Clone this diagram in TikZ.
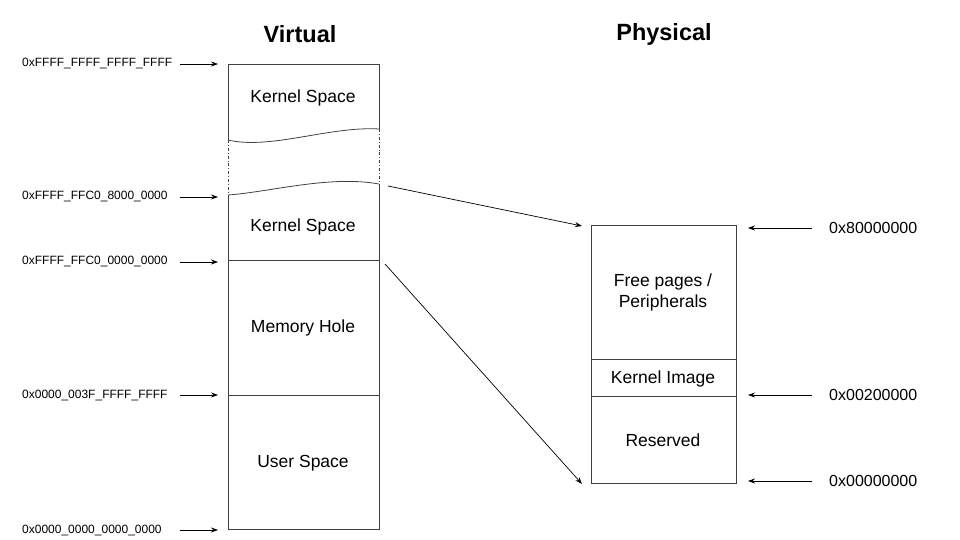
\documentclass[tikz,border=0pt]{standalone}
\usepackage{fontspec}
\setmainfont{Liberation Sans}
\usetikzlibrary{arrows.meta}
\begin{document}
\begin{tikzpicture}[x=1pt,y=-1pt,
  ln/.style={draw=black!75,line width=0.8pt},
  arr/.style={-{Stealth[length=7pt,width=5pt]},line width=0.7pt},
  addr/.style={anchor=west,font=\fontsize{12}{14}\selectfont,inner sep=0pt},
  lab/.style={font=\fontsize{17.5}{21}\selectfont,align=center},
  ttl/.style={font=\bfseries\fontsize{23.5}{26}\selectfont}]
\useasboundingbox (0,0) rectangle (960,540);
\node[ttl] (tv) at (300,34) {Virtual};
\node[ttl] (tp) at (664,34) {Physical};
% virtual column
\draw[ln] (228,140) -- (228,64) -- (379,64) -- (379,129);
\draw[ln] (228,140) .. controls (270,150) and (330,126) .. (379,129);
\draw[ln] (228,195) .. controls (270,192) and (330,175) .. (379,184);
\draw[ln] (379,184) -- (379,529) -- (228,529) -- (228,195);
\draw[ln] (228,260) -- (379,260);
\draw[ln] (228,395) -- (379,395);
\draw[ln,dash dot,line width=0.5pt] (228,140) -- (228,195);
\draw[ln,dash dot,line width=0.5pt] (379,129) -- (379,184);
\node[lab] (k1) at (303,98) {Kernel Space};
\node[lab] (k2) at (303,227) {Kernel Space};
\node[lab] (mh) at (303,328) {Memory Hole};
\node[lab] (us) at (303,463) {User Space};
% physical column
\draw[ln] (591,225) rectangle (736,483);
\draw[ln] (591,359) -- (736,359);
\draw[ln] (591,396) -- (736,396);
\node[lab] (fp) at (663,292) {Free pages /\\Peripherals};
\node[lab] (ki) at (663,379) {Kernel Image};
\node[lab] (rs) at (663,440) {Reserved};
% left addresses
\foreach \y/\t/\n in {64/0xFFFF\_FFFF\_FFFF\_FFFF/a1,197/0xFFFF\_FFC0\_8000\_0000/a2,262/0xFFFF\_FFC0\_0000\_0000/a3,395/0x0000\_003F\_FFFF\_FFFF/a4,530/0x0000\_0000\_0000\_0000/a5}{
  \node[addr] (\n) at (22,\y) {\t};
  \coordinate (\n e) at (218,\y);
  \draw[arr] (180,\y) -- (\n e);
}
% right addresses
\foreach \y/\t/\n in {228/0x80000000/b1,395/0x00200000/b2,481/0x00000000/b3}{
  \node[anchor=west,font=\fontsize{16}{18}\selectfont,inner sep=0pt] (\n) at (829,\y) {\t};
  \coordinate (\n s) at (812,\y);
  \draw[arr] (\n s) -- (748,\y);
}
\coordinate (m1) at (388,186);
\coordinate (m2) at (582,226);
\coordinate (m3) at (385,264);
\coordinate (m4) at (582,484);
\draw[arr] (m1) -- (m2);
\draw[arr] (m3) -- (m4);
\end{tikzpicture}
\end{document}
